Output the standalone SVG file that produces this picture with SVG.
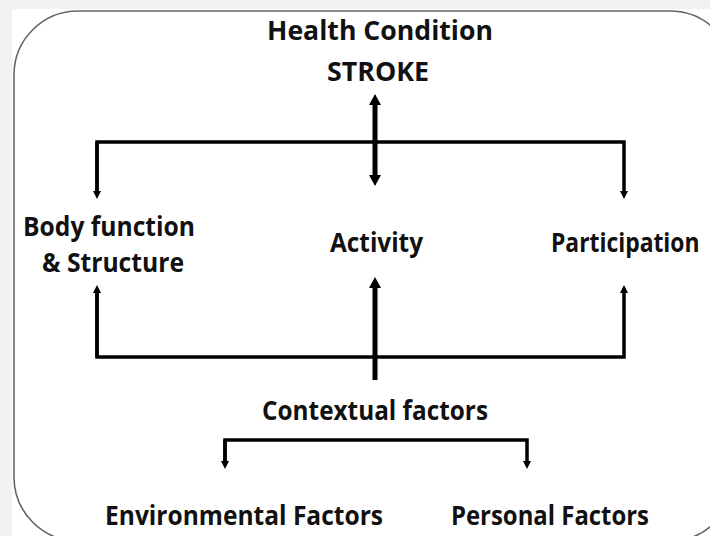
<svg xmlns="http://www.w3.org/2000/svg" width="710" height="536" viewBox="0 0 710 536">
<style>
.t{font-family:"Open Sans","Liberation Sans",sans-serif;font-weight:bold;font-size:26px;fill:#111}
.ln{stroke:#000;stroke-width:3.5;fill:none}
.lk{stroke:#000;stroke-width:5;fill:none}
</style>
<defs>
<marker id="ah" viewBox="0 0 8 8" markerWidth="8" markerHeight="8" refX="1" refY="4" orient="auto" markerUnits="userSpaceOnUse"><path d="M0,0 L8,4 L0,8 Z" fill="#000"/></marker>
<marker id="ahb" viewBox="0 0 12 12" markerWidth="12" markerHeight="12" refX="1" refY="6" orient="auto-start-reverse" markerUnits="userSpaceOnUse"><path d="M0,0 L11,6 L0,12 Z" fill="#000"/></marker>
</defs>
<rect x="0" y="0" width="710" height="536" fill="#f2f2f2"/>
<rect x="12" y="9" width="698" height="527" fill="#fff"/>
<rect id="frame" x="14" y="11" width="720" height="530" rx="64" ry="64" fill="none" stroke="#666" stroke-width="1.6"/>
<g id="connectors">
<line class="lk" x1="375" y1="104" x2="375" y2="176" marker-start="url(#ahb)" marker-end="url(#ahb)"/>
<polyline class="ln" points="97,192 97,142 624,142 624,192" marker-end="url(#ah)"/>
<line class="ln" x1="97" y1="142" x2="97" y2="192" marker-end="url(#ah)"/>
<polyline class="ln" points="97,292 97,357 624,357 624,292" marker-end="url(#ah)"/>
<line class="ln" x1="97" y1="357" x2="97" y2="292" marker-end="url(#ah)"/>
<line class="lk" x1="375" y1="380" x2="375" y2="287" marker-end="url(#ahb)"/>
<polyline class="ln" points="225,462 225,440 527,440 527,462" marker-end="url(#ah)"/>
<line class="ln" x1="225" y1="440" x2="225" y2="462" marker-end="url(#ah)"/>
</g>
<g id="health"><text class="t" x="380" y="40" text-anchor="middle" textLength="226" lengthAdjust="spacingAndGlyphs">Health Condition</text><text class="t" x="378" y="81" text-anchor="middle" textLength="102" lengthAdjust="spacingAndGlyphs">STROKE</text></g>
<g id="body"><text class="t" x="23" y="236" textLength="172" lengthAdjust="spacingAndGlyphs">Body function</text><text class="t" x="42" y="272" textLength="142" lengthAdjust="spacingAndGlyphs">&amp; Structure</text></g>
<g id="activity"><text class="t" x="330" y="252" textLength="93" lengthAdjust="spacingAndGlyphs">Activity</text></g>
<g id="participation"><text class="t" transform="translate(551,252) scale(0.88,1)" x="0" y="0">Participation</text></g>
<g id="contextual"><text class="t" x="262" y="420" textLength="226" lengthAdjust="spacingAndGlyphs">Contextual factors</text></g>
<g id="environmental"><text class="t" x="105" y="525" textLength="278" lengthAdjust="spacingAndGlyphs">Environmental Factors</text></g>
<g id="personal"><text class="t" x="451" y="525" textLength="198" lengthAdjust="spacingAndGlyphs">Personal Factors</text></g>
</svg>
